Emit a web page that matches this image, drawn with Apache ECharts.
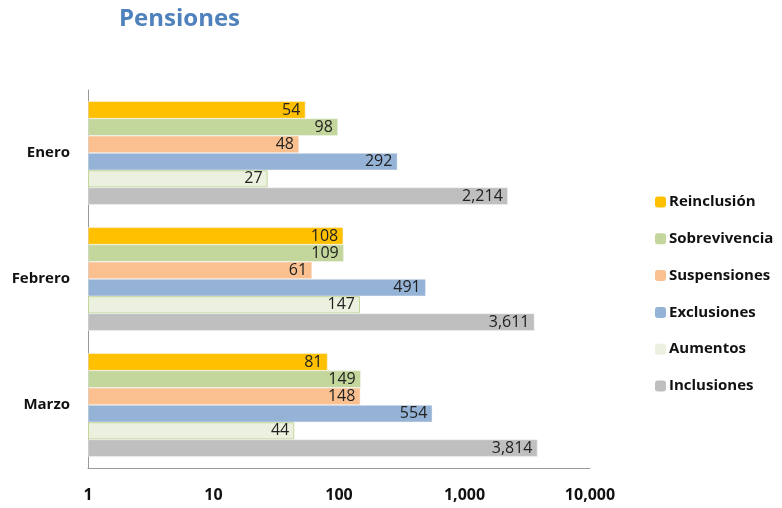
<!DOCTYPE html>
<html>
<head>
<meta charset="utf-8">
<script src="https://cdn.jsdelivr.net/npm/echarts@6/dist/echarts.min.js"></script>
<style>
html, body { margin: 0; padding: 0; background: #fff; }
#chart { width: 782px; height: 508px; }
</style>
</head>
<body>
<div id="chart"></div>
<script>
var months = ['Enero', 'Febrero', 'Marzo'];
var seriesNames = ['Reinclusión', 'Sobrevivencia', 'Suspensiones', 'Exclusiones', 'Aumentos', 'Inclusiones'];
var reinclusion = [54, 108, 81];
var sobrevivencia = [98, 109, 149];
var suspensiones = [48, 61, 148];
var exclusiones = [292, 491, 554];
var aumentos = [27, 147, 44];
var inclusiones = [2214, 3611, 3814];
var colors = ['#FFC000', '#C3D69B', '#FAC090', '#95B3D7', '#EBF1DE', '#BFBFBF'];

var values = [reinclusion, sobrevivencia, suspensiones, exclusiones, aumentos, inclusiones];

function fmt(v) {
    return String(v).replace(/\B(?=(\d{3})+(?!\d))/g, ',');
}

var chart = echarts.init(document.getElementById('chart'));

var series = seriesNames.map(function (name, i) {
    var aum = name === 'Aumentos';
    return {
        name: name,
        type: 'bar',
        data: values[i],
        barGap: '0%',
        barCategoryGap: '18%',
        itemStyle: {
            color: colors[i],
            borderColor: aum ? '#C3D69B' : '#f4f4f4',
            borderWidth: aum ? 1 : 0.5
        },
        label: {
            show: true,
            position: 'insideRight',
            distance: 5,
            color: '#222',
            fontSize: 16,
            fontFamily: 'Open Sans',
            formatter: function (p) { return fmt(p.value); }
        }
    };
});

var option = {
    animation: false,
    title: {
        text: 'Pensiones',
        left: 114,
        top: 2,
        textStyle: { color: '#4F81BD', fontSize: 24, fontWeight: 'bold', fontFamily: 'Open Sans' }
    },
    legend: {
        orient: 'vertical',
        left: 650,
        top: 188,
        itemWidth: 11,
        itemHeight: 11,
        itemGap: 18.8,
        data: seriesNames.map(function (n) {
            return { name: n, itemStyle: { borderWidth: 0 } };
        }),
        textStyle: { fontSize: 15, fontWeight: 'bold', color: '#111', fontFamily: 'Open Sans', lineHeight: 18, padding: [0, 0, 0, -2] }
    },
    grid: { left: 88, right: 192, top: 90, bottom: 40 },
    xAxis: {
        type: 'log',
        logBase: 10,
        min: 1,
        max: 10000,
        splitLine: { show: false },
        axisTick: { show: false },
        axisLine: { show: true, lineStyle: { color: '#999' } },
        axisLabel: {
            margin: 19,
            color: '#111',
            fontSize: 16,
            fontWeight: 'bold',
            fontFamily: 'Open Sans',
            formatter: function (v) { return fmt(Math.round(v)); }
        }
    },
    yAxis: {
        type: 'category',
        inverse: true,
        data: months,
        axisTick: { show: false },
        axisLine: { show: true, lineStyle: { color: '#999' } },
        axisLabel: {
            margin: 18,
            color: '#111',
            fontSize: 15,
            fontWeight: 'bold',
            fontFamily: 'Open Sans'
        }
    },
    series: series
};

chart.setOption(option);
</script>
</body>
</html>
